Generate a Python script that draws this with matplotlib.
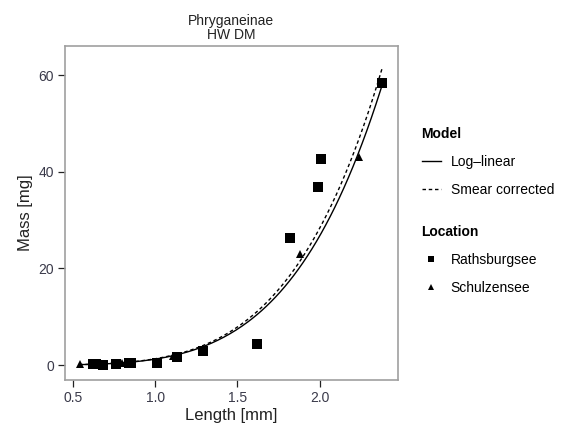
import numpy as np
import matplotlib
matplotlib.use("Agg")
from matplotlib import pyplot as plt
from matplotlib.lines import Line2D

plt.rcParams["font.family"] = ["Liberation Sans", "DejaVu Sans"]

# observed points
raths_len = [0.62, 0.64, 0.68, 0.76, 0.84, 0.85, 1.01, 1.13, 1.29, 1.62, 1.82, 1.99, 2.01, 2.38]
raths_mass = [0.2, 0.2, 0.1, 0.3, 0.4, 0.4, 0.4, 1.6, 2.9, 4.3, 26.2, 36.8, 42.7, 58.4]
schulz_len = [0.54, 0.80, 1.11, 1.88, 2.24]
schulz_mass = [0.2, 0.5, 1.9, 23.0, 43.0]

# fitted model  M = a * L^b, smear corrected = M * cf
coef_a = 1.22
coef_b = 4.45
smear_cf = 1.06
len_range = [0.537, 2.38]

xticks = [0.5, 1.0, 1.5, 2.0]
xticklabels = ["0.5", "1.0", "1.5", "2.0"]
yticks = [0, 20, 40, 60]

fig = plt.figure(figsize=(5.79, 4.32), dpi=100)
ax = fig.add_axes([0.1123, 0.1204, 0.5747, 0.7731])

L = np.linspace(len_range[0], len_range[1], 200)
fit = coef_a * L ** coef_b
ax.plot(L, fit, color="black", lw=1.0)
ax.plot(L, fit * smear_cf, color="black", lw=1.0, dashes=(2.5, 2))

ax.plot(raths_len, raths_mass, "s", color="black", ms=6.5, mew=0)
ax.plot(schulz_len, schulz_mass, "^", color="black", ms=6, mew=0)

ax.set_xlim(0.451, 2.476)
ax.set_ylim(-3.1, 66)
ax.set_xticks(xticks)
ax.set_xticklabels(xticklabels)
ax.set_yticks(yticks)
for sp in ax.spines.values():
    sp.set_color("#a0a0a0")
    sp.set_linewidth(1.2)
ax.tick_params(direction="out", length=5, width=0.9, color="#222222",
               labelsize=10, labelcolor="#3a3a4a", pad=3)

ax.set_xlabel("Length [mm]", fontsize=12, labelpad=2, color="#222222")
ax.set_ylabel("Mass [mg]", fontsize=12, labelpad=4, color="#222222")
ax.set_title("Phryganeinae\nHW DM", fontsize=10, linespacing=1.0, pad=5, color="#222222")

model_handles = [Line2D([], [], color="black", lw=1.0),
                 Line2D([], [], color="black", lw=1.0, dashes=(2.5, 2))]
leg1 = fig.legend(model_handles, ["Log\u2013linear", "Smear corrected"],
                  title="Model", loc="upper left", bbox_to_anchor=(0.716, 0.722),
                  frameon=False, fontsize=10, alignment="left",
                  title_fontproperties={"weight": "bold", "size": 10},
                  handlelength=1.4, handletextpad=0.7, labelspacing=1.0, borderpad=0)

loc_handles = [Line2D([], [], ls="none", marker="s", color="black", ms=5, mew=0),
               Line2D([], [], ls="none", marker="^", color="black", ms=5, mew=0)]
leg2 = fig.legend(loc_handles, ["Rathsburgsee", "Schulzensee"],
                  title="Location", loc="upper left", bbox_to_anchor=(0.716, 0.495),
                  frameon=False, fontsize=10, alignment="left",
                  title_fontproperties={"weight": "bold", "size": 10},
                  handlelength=1.4, handletextpad=0.7, labelspacing=1.0, borderpad=0)

fig.savefig("out.png", dpi=100)
